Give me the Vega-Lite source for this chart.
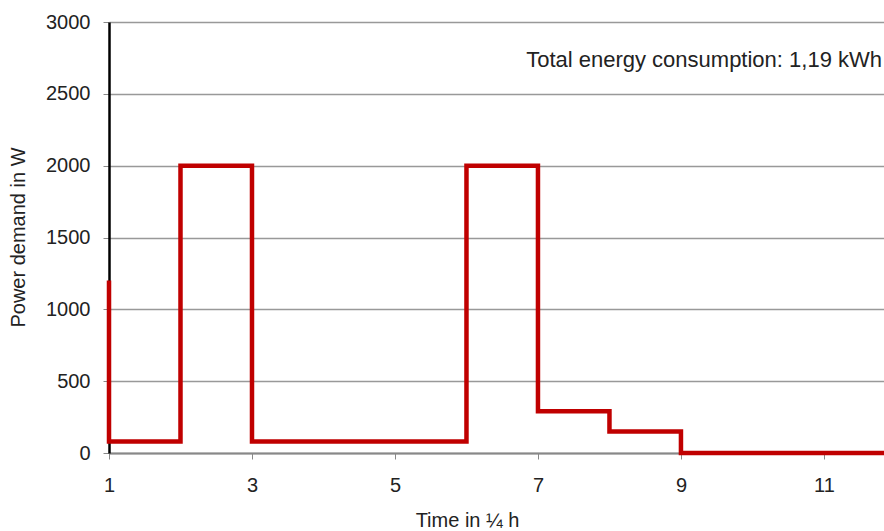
{
  "$schema": "https://vega.github.io/schema/vega-lite/v6.json",
  "width": 775,
  "height": 431,
  "autosize": {"type": "none"},
  "padding": {"left": 109, "top": 22, "right": 0, "bottom": 78},
  "background": "white",
  "config": {
    "view": {"stroke": null},
    "font": "Liberation Sans"
  },
  "layer": [
    {
      "data": {
        "values": [
          {"i": 0, "t": 1, "p": 1200},
          {"i": 1, "t": 1, "p": 80},
          {"i": 2, "t": 2, "p": 80},
          {"i": 3, "t": 2, "p": 2000},
          {"i": 4, "t": 3, "p": 2000},
          {"i": 5, "t": 3, "p": 80},
          {"i": 6, "t": 6, "p": 80},
          {"i": 7, "t": 6, "p": 2000},
          {"i": 8, "t": 7, "p": 2000},
          {"i": 9, "t": 7, "p": 290},
          {"i": 10, "t": 8, "p": 290},
          {"i": 11, "t": 8, "p": 150},
          {"i": 12, "t": 9, "p": 150},
          {"i": 13, "t": 9, "p": 0},
          {"i": 14, "t": 11.84, "p": 0}
        ]
      },
      "mark": {"type": "line", "color": "#c00000", "strokeWidth": 4.5, "strokeJoin": "miter", "clip": false},
      "encoding": {
        "x": {
          "field": "t", "type": "quantitative",
          "scale": {"domain": [1, 11.84], "nice": false, "zero": false},
          "axis": {
            "values": [1, 3, 5, 7, 9, 11],
            "format": "d",
            "labelFlush": false,
            "title": "Time in ¼ h",
            "titleFont": "Liberation Sans", "titleFontSize": 20, "titleFontWeight": "normal", "titleColor": "#222",
            "titleX": 358, "titleY": 67, "titleBaseline": "middle",
            "labelFont": "Liberation Sans", "labelFontSize": 20, "labelColor": "#222",
            "labelPadding": 16,
            "tickSize": 6, "tickColor": "#888",
            "domainColor": "#888", "domainWidth": 2,
            "grid": false
          }
        },
        "y": {
          "field": "p", "type": "quantitative",
          "scale": {"domain": [0, 3000], "nice": false},
          "axis": {
            "values": [0, 500, 1000, 1500, 2000, 2500, 3000],
            "format": "d",
            "labelFlush": false,
            "title": "Power demand in W",
            "titleFont": "Liberation Sans", "titleFontSize": 20, "titleFontWeight": "normal", "titleColor": "#222",
            "titleX": -91, "titleY": 215, "titleBaseline": "middle", "titleAlign": "center", "titleAngle": -90,
            "labelFont": "Liberation Sans", "labelFontSize": 20, "labelColor": "#222",
            "labelPadding": 13,
            "tickSize": 6, "tickColor": "#888",
            "domainColor": "#000", "domainWidth": 2.5,
            "grid": true, "gridColor": "#999", "gridWidth": 1.5
          }
        },
        "order": {"field": "i", "type": "quantitative"}
      }
    },
    {
      "data": {"values": [{"label": "Total energy consumption: 1,19 kWh", "t": 11.84, "p": 2735}]},
      "mark": {"type": "text", "align": "right", "baseline": "middle", "font": "Liberation Sans", "fontSize": 22, "color": "#222", "dx": -2},
      "encoding": {
        "x": {"field": "t", "type": "quantitative"},
        "y": {"field": "p", "type": "quantitative"},
        "text": {"field": "label"}
      }
    }
  ]
}
